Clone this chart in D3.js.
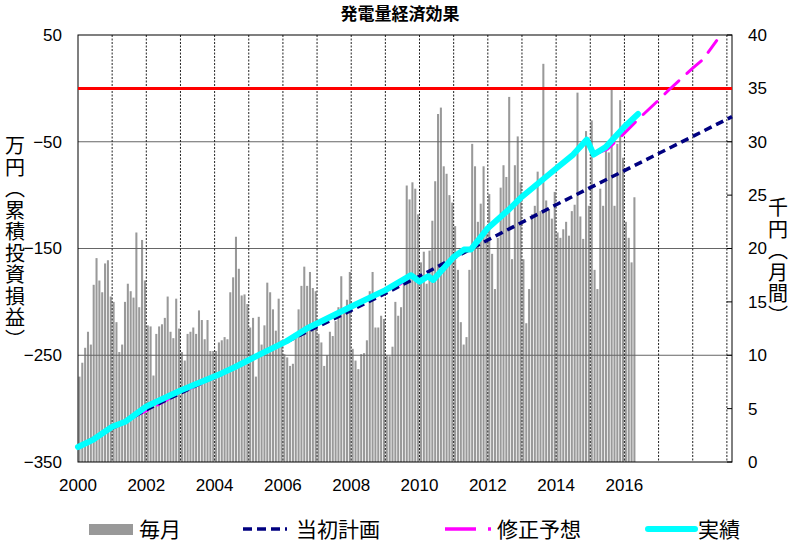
<!DOCTYPE html>
<html>
<head>
<meta charset="utf-8">
<script src="https://cdn.jsdelivr.net/npm/d3@7"></script>
<style>
  body { margin: 0; background: #fff; }
  text { font-family: "Liberation Sans", Arial, sans-serif; }
  .jp { font-family: "Noto Sans CJK JP", sans-serif; }
</style>
</head>
<body>
<div id="chart"></div>
<script>
// monthly values (千円), Jan 2000 .. Apr 2016
const monthly = [
    [8.0, 9.3, 10.7, 12.2, 11.0, 16.6, 19.1, 17.0, 15.9, 18.6, 18.9, 15.5],
    [15.0, 13.1, 10.3, 11.0, 15.0, 16.7, 16.0, 15.4, 21.5, 14.5, 20.8, 17.0],
    [12.8, 12.7, 8.1, 12.0, 12.7, 12.9, 13.5, 15.5, 12.2, 11.6, 15.3, 12.5],
    [10.3, 9.5, 12.0, 12.2, 12.6, 12.0, 14.2, 13.3, 11.5, 13.3, 10.4, 10.4],
    [10.4, 11.2, 11.4, 11.7, 11.5, 15.9, 17.3, 21.1, 18.1, 15.6, 15.7, 14.8],
    [12.6, 13.5, 8.0, 13.6, 11.0, 12.8, 16.8, 15.9, 14.3, 12.3, 15.3, 11.4],
    [10.1, 9.8, 9.0, 9.2, 11.7, 14.3, 16.5, 18.3, 16.5, 17.8, 16.3, 16.0],
    [12.0, 11.2, 9.0, 10.0, 12.2, 11.8, 13.2, 14.5, 17.4, 14.0, 15.2, 17.8],
    [10.6, 9.5, 8.7, 10.1, 10.2, 11.4, 16.0, 17.8, 12.6, 12.6, 13.7, 13.4],
    [10.0, 9.9, 10.8, 15.0, 13.7, 14.5, 17.1, 25.9, 24.6, 26.2, 25.6, 23.2],
    [18.7, 19.7, 16.7, 19.8, 22.6, 26.3, 32.6, 33.2, 27.7, 27.0, 25.0, 24.3],
    [22.1, 18.0, 13.1, 11.0, 11.7, 18.0, 29.8, 27.7, 22.5, 24.2, 27.7, 22.0],
    [25.1, 19.5, 16.2, 21.0, 25.7, 27.8, 26.7, 34.2, 19.0, 27.8, 30.5, 26.2],
    [19.0, 13.0, 16.2, 23.2, 24.0, 27.2, 23.5, 37.3, 24.5, 23.7, 22.8, 25.3],
    [21.5, 21.0, 21.8, 22.5, 21.2, 23.5, 24.1, 34.6, 23.0, 20.9, 31.0, 24.0],
    [32.0, 18.0, 16.2, 25.6, 24.0, 29.7, 29.0, 34.9, 24.0, 29.8, 33.9, 28.5],
    [22.5, 21.0, 18.7, 24.8]
]

// cumulative (万円): [year, value]
const actual = [
    [2000.0, -336], [2000.45, -329], [2001.0, -317], [2001.4, -312], [2002.0, -298],
    [2003.0, -283], [2004.2, -267], [2004.6, -261], [2005.4, -248], [2006.1, -237],
    [2006.7, -225], [2007.9, -206], [2009.0, -189], [2009.75, -175], [2010.0, -181],
    [2010.25, -176], [2010.4, -179.5], [2011.0, -158], [2011.3, -151], [2011.5, -151],
    [2012.0, -131], [2012.6, -114], [2013.0, -101.5], [2014.0, -75], [2014.5, -62],
    [2014.9, -48], [2015.1, -62], [2015.45, -55], [2016.0, -36], [2016.4, -24]
]
const plan = [
    [2000, -336], [2002, -301], [2004, -270], [2006, -239], [2008, -208], [2010, -176],
    [2012, -142], [2014, -109], [2016, -77], [2018, -45], [2019.15, -26.5]
]
const revised = [
    [2000, -336], [2001, -318], [2002, -302], [2003, -285], [2004.2, -268], [2005.4, -249],
    [2006.7, -226], [2007.9, -207], [2009.4, -184], [2009.75, -176], [2010.0, -181],
    [2010.25, -176], [2010.4, -179.5], [2011.0, -158], [2011.5, -151], [2012.0, -132],
    [2013.0, -102], [2014.0, -76], [2014.9, -49], [2015.1, -62], [2015.5, -57],
    [2016, -42], [2016.4, -29], [2017, -11], [2017.3, -1.5], [2018, 19],
    [2018.3, 27], [2018.7, 44.7]
]
const breakEven = 0

const yearTicks = d3.range(2000, 2017, 2)
const leftTicks = [50, -50, -150, -250, -350]
const rightTicks = d3.range(0, 41, 5)

const W = 800, H = 549
const m = {top: 35, right: 68, bottom: 87, left: 78}

const svg = d3.select('#chart').append('svg')
    .attr('width', W)
    .attr('height', H)

const x = d3.scaleLinear().domain([2000, 2019.15]).range([m.left, W - m.right])
const yL = d3.scaleLinear().domain([-350, 50]).range([H - m.bottom, m.top])
const yR = d3.scaleLinear().domain([0, 40]).range([H - m.bottom, m.top])

const bars = monthly.flat().map((v, i) => ({t: 2000 + i / 12, v: v}))
const step = x(2000 + 1 / 12) - x(2000)

// bars
svg.append('g')
    .selectAll('rect')
    .data(bars)
    .join('rect')
    .attr('x', d => x(d.t) + step * 0.15)
    .attr('width', step * 0.72)
    .attr('y', d => yR(d.v))
    .attr('height', d => yR(0) - yR(d.v))
    .attr('fill', '#999999')

// gridlines
svg.append('g')
    .selectAll('line')
    .data(leftTicks.slice(1, -1))
    .join('line')
    .attr('x1', m.left).attr('x2', W - m.right)
    .attr('y1', d => yL(d)).attr('y2', d => yL(d))
    .attr('stroke', '#666')
    .attr('stroke-width', 1)

svg.append('g')
    .selectAll('line')
    .data(d3.range(2001, 2020))
    .join('line')
    .attr('x1', d => x(d)).attr('x2', d => x(d))
    .attr('y1', m.top).attr('y2', H - m.bottom)
    .attr('stroke', '#222')
    .attr('stroke-width', 1)
    .attr('stroke-dasharray', '2,1.5')

// frame
svg.append('rect')
    .attr('x', m.left).attr('y', m.top)
    .attr('width', W - m.left - m.right)
    .attr('height', H - m.top - m.bottom)
    .attr('fill', 'none')
    .attr('stroke', '#000')
    .attr('stroke-width', 1)

// right axis inner ticks
svg.append('g')
    .selectAll('line')
    .data(rightTicks)
    .join('line')
    .attr('x1', W - m.right - 5).attr('x2', W - m.right)
    .attr('y1', d => yR(d)).attr('y2', d => yR(d))
    .attr('stroke', '#000')

// break-even line
svg.append('line')
    .attr('x1', m.left).attr('x2', W - m.right)
    .attr('y1', yL(breakEven)).attr('y2', yL(breakEven))
    .attr('stroke', '#ff0000')
    .attr('stroke-width', 3)

const line = d3.line().x(d => x(d[0])).y(d => yL(d[1]))

svg.append('path')
    .attr('d', line(revised))
    .attr('fill', 'none')
    .attr('stroke', '#ff00ff')
    .attr('stroke-width', 3)
    .attr('stroke-linecap', 'round')
    .attr('stroke-dasharray', '19,11')

svg.append('path')
    .attr('d', line(plan))
    .attr('fill', 'none')
    .attr('stroke', '#000080')
    .attr('stroke-width', 3.5)
    .attr('stroke-dasharray', '8,5')

svg.append('path')
    .attr('d', line(actual))
    .attr('fill', 'none')
    .attr('stroke', '#00ffff')
    .attr('stroke-width', 6)
    .attr('stroke-linejoin', 'round')
    .attr('stroke-linecap', 'round')

// tick labels
const fmt = d => d < 0 ? '\u2212' + Math.abs(d) : String(d)
svg.append('g')
    .selectAll('text')
    .data(leftTicks)
    .join('text')
    .attr('x', m.left - 16)
    .attr('y', d => yL(d))
    .attr('dy', '0.35em')
    .attr('text-anchor', 'end')
    .attr('font-size', 17)
    .text(fmt)

svg.append('g')
    .selectAll('text')
    .data(rightTicks)
    .join('text')
    .attr('x', W - m.right + 16)
    .attr('y', d => yR(d))
    .attr('dy', '0.35em')
    .attr('font-size', 17)
    .text(d => d)

svg.append('g')
    .selectAll('text')
    .data(yearTicks)
    .join('text')
    .attr('x', d => x(d))
    .attr('y', H - m.bottom + 29)
    .attr('text-anchor', 'middle')
    .attr('font-size', 17)
    .text(d => d)

// titles
svg.append('text')
    .attr('class', 'jp')
    .attr('x', 400).attr('y', 20)
    .attr('text-anchor', 'middle')
    .attr('font-size', 17)
    .attr('font-weight', 'bold')
    .text('発電量経済効果')

svg.append('text')
    .attr('class', 'jp')
    .attr('x', 15).attr('y', 243)
    .attr('text-anchor', 'middle')
    .attr('font-size', 20)
    .attr('letter-spacing', 1.5)
    .style('writing-mode', 'vertical-rl')
    .text('万円（累積投資損益）')

svg.append('text')
    .attr('class', 'jp')
    .attr('x', 778).attr('y', 262)
    .attr('text-anchor', 'middle')
    .attr('font-size', 20)
    .attr('letter-spacing', 1.5)
    .style('writing-mode', 'vertical-rl')
    .text('千円（月間）')

// legend
const lg = svg.append('g')
const ly = 529
lg.append('rect')
    .attr('x', 89).attr('y', ly - 5).attr('width', 44).attr('height', 11)
    .attr('fill', '#999999')
lg.append('line')
    .attr('x1', 243).attr('x2', 287).attr('y1', ly).attr('y2', ly)
    .attr('stroke', '#000080').attr('stroke-width', 3.5).attr('stroke-dasharray', '9,5')
lg.append('line')
    .attr('x1', 445).attr('x2', 492).attr('y1', ly).attr('y2', ly)
    .attr('stroke', '#ff00ff').attr('stroke-width', 3.5).attr('stroke-dasharray', '31,12,3,100')
lg.append('line')
    .attr('x1', 648).attr('x2', 695).attr('y1', ly).attr('y2', ly)
    .attr('stroke', '#00ffff').attr('stroke-width', 6).attr('stroke-linecap', 'round')

const legendText = [['毎月', 139], ['当初計画', 296], ['修正予想', 497], ['実績', 698]]
lg.selectAll('text.lt')
    .data(legendText)
    .join('text')
    .attr('class', 'lt jp')
    .attr('x', d => d[1])
    .attr('y', ly)
    .attr('dy', '0.36em')
    .attr('font-size', 21)
    .text(d => d[0])
</script>
</body>
</html>
